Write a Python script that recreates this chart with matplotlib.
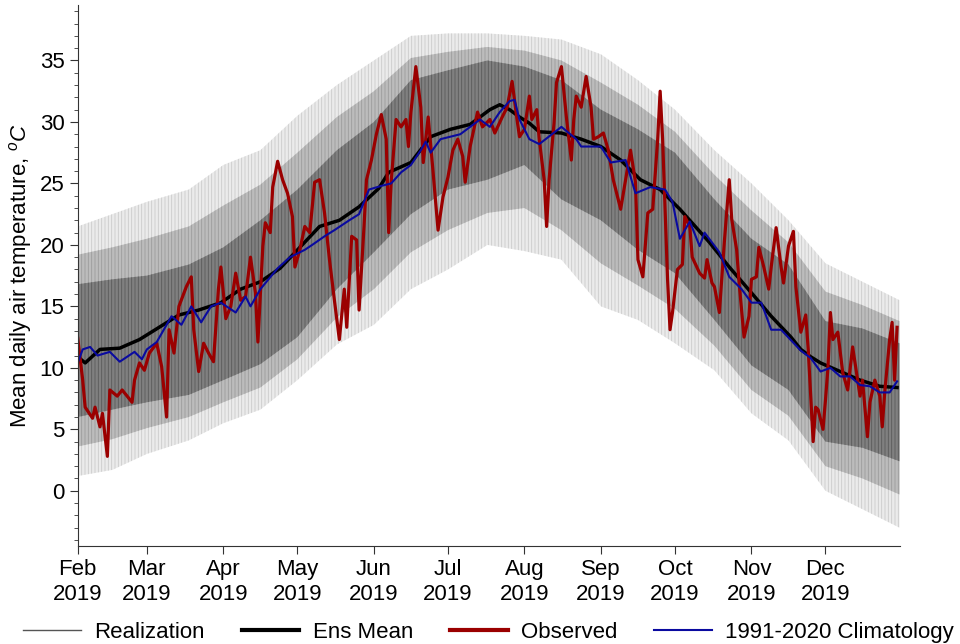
import numpy as np
import matplotlib
matplotlib.use('Agg')
import matplotlib.pyplot as plt
import matplotlib.dates as mdates
from matplotlib.lines import Line2D
from matplotlib.ticker import MultipleLocator

plt.rcParams['font.family'] = ['Liberation Sans', 'DejaVu Sans']
plt.rcParams['mathtext.fontset'] = 'custom'
plt.rcParams['mathtext.it'] = 'Liberation Sans:italic'
plt.rcParams['mathtext.rm'] = 'Liberation Sans'
plt.rcParams['hatch.linewidth'] = 0.6

start = np.datetime64('2019-02-01')

# Ensemble spread of the realizations (day offset from Feb 1)
env_days = [0, 14, 28, 45, 59, 74, 89, 105, 120, 135, 150, 166, 181, 196,
            212, 227, 242, 258, 273, 288, 303, 318, 333]
env_max = [21.5, 22.5, 23.5, 24.5, 26.5, 27.7, 30.5, 33.0, 35.0, 37.0, 37.2,
           37.2, 37.0, 36.7, 35.5, 33.4, 31.0, 27.7, 25.0, 22.0, 18.5, 17.0,
           15.5]
env_mid_hi = [19.2, 19.8, 20.5, 21.5, 23.2, 24.9, 27.5, 30.4, 32.5, 35.2,
              35.7, 36.1, 35.8, 35.0, 33.2, 31.4, 29.2, 25.7, 22.8, 20.2,
              16.2, 15.1, 13.8]
env_hi = [16.8, 17.2, 17.5, 18.4, 19.8, 22.0, 24.5, 27.7, 30.0, 33.4, 34.2,
          35.0, 34.5, 33.4, 31.0, 29.4, 27.5, 23.7, 20.5, 18.4, 13.8, 13.2,
          12.0]
env_lo = [6.0, 6.6, 7.2, 7.8, 9.0, 10.3, 12.5, 16.4, 19.4, 22.5, 24.5, 25.3,
          26.5, 23.7, 22.0, 19.6, 17.7, 13.9, 10.2, 8.2, 4.0, 3.5, 2.4]
env_mid_lo = [3.6, 4.2, 5.1, 6.0, 7.2, 8.4, 10.7, 14.1, 16.4, 19.4, 21.2,
              22.6, 23.0, 21.2, 18.5, 16.7, 14.8, 11.8, 8.2, 6.1, 2.0, 1.0,
              -0.3]
env_min = [1.2, 1.7, 3.0, 4.1, 5.5, 6.6, 9.0, 11.9, 13.5, 16.4, 18.0, 20.0,
           19.5, 18.8, 15.0, 13.9, 12.0, 9.8, 6.3, 4.1, 0.0, -1.5, -3.0]

# Ensemble mean
mean_days = [0, 3, 9, 17, 25, 33, 41, 49, 58, 66, 74, 82, 90, 98, 106, 114,
             122, 126, 135, 143, 151, 159, 167, 171, 175, 179, 183, 187, 196,
             204, 212, 220, 228, 236, 240, 244, 248, 256, 264, 273, 281, 289,
             293, 297, 301, 309, 317, 325, 332]
mean_vals = [10.9, 10.4, 11.5, 11.6, 12.3, 13.3, 14.3, 14.7, 15.3, 16.4, 17.0,
             18.1, 19.8, 21.5, 22.0, 23.1, 24.6, 25.9, 26.7, 28.8, 29.4, 29.8,
             31.0, 31.4, 31.0, 30.4, 29.9, 29.2, 29.1, 28.6, 28.0, 26.9, 25.3,
             24.5, 23.7, 22.9, 22.0, 20.2, 18.2, 16.1, 14.2, 12.5, 11.5, 10.9,
             10.4, 9.7, 9.0, 8.5, 8.4]

# Observed daily mean
obs_days = [0, 2, 3, 6, 7, 9, 10, 12, 13, 16, 18, 22, 23, 25, 27, 29, 32, 34,
            36, 37, 39, 41, 44, 46, 47, 49, 51, 53, 55, 57, 58, 60, 62, 64, 66,
            68, 70, 72, 73, 75, 76, 78, 79, 81, 83, 85, 87, 88, 90, 92, 94, 96,
            98, 100, 102, 104, 106, 108, 109, 111, 113, 114, 116, 117, 119,
            121, 123, 125, 126, 127, 129, 131, 133, 134, 135, 137, 139, 140,
            142, 144, 146, 148, 150, 152, 154, 156, 157, 159, 162, 164, 167,
            169, 172, 174, 176, 178, 179, 181, 183, 184, 186, 187, 189, 190,
            191, 193, 194, 196, 198, 200, 201, 202, 204, 206, 208, 209, 211,
            213, 215, 217, 220, 222, 224, 226, 227, 229, 231, 233, 235, 236,
            237, 239, 240, 241, 243, 245, 246, 248, 249, 252, 254, 255, 257,
            258, 260, 262, 264, 265, 267, 268, 270, 272, 273, 275, 276, 278,
            280, 281, 283, 285, 286, 288, 290, 291, 293, 295, 296, 298, 299,
            300, 302, 303, 304, 305, 306, 308, 310, 312, 314, 316, 317, 318,
            320, 321, 323, 325, 326, 327, 329, 330, 331, 332]
obs_vals = [12.4, 9.0, 6.8, 5.9, 6.8, 5.2, 6.3, 2.8, 8.2, 7.7, 8.2, 7.2, 9.0,
            10.4, 9.8, 11.2, 12.0, 10.1, 6.0, 13.1, 11.2, 15.0, 16.6, 17.4,
            13.1, 9.7, 12.0, 11.2, 10.5, 16.4, 18.2, 14.0, 15.0, 17.7, 15.5,
            15.8, 19.0, 16.1, 12.1, 19.9, 21.8, 21.0, 24.7, 26.8, 25.3, 24.2,
            22.3, 18.2, 19.6, 21.5, 21.0, 25.1, 25.3, 22.6, 18.8, 15.5, 12.3,
            16.4, 13.3, 20.7, 20.4, 14.7, 21.5, 25.3, 26.9, 29.0, 30.6, 28.6,
            21.0, 25.1, 30.2, 29.6, 30.2, 28.0, 30.8, 34.5, 31.2, 26.7, 30.4,
            25.9, 21.2, 23.9, 25.5, 27.7, 28.6, 27.2, 25.1, 28.0, 30.8, 29.6,
            30.2, 29.1, 30.4, 31.2, 33.3, 30.2, 28.8, 29.4, 32.1, 30.2, 31.0,
            28.6, 25.3, 21.5, 25.3, 29.9, 33.2, 34.5, 30.4, 26.9, 30.2, 32.1,
            31.2, 33.7, 31.2, 28.6, 28.8, 29.1, 27.7, 25.3, 22.9, 25.3, 27.7,
            25.1, 18.8, 17.4, 22.6, 22.9, 28.6, 32.5, 28.6, 17.2, 13.1, 14.5,
            18.0, 18.4, 22.3, 21.5, 19.0, 17.7, 17.3, 18.8, 16.9, 16.6, 14.5,
            20.2, 25.3, 22.1, 19.6, 16.9, 12.5, 14.2, 17.2, 17.4, 19.8, 18.2,
            16.4, 18.2, 21.4, 18.2, 16.9, 19.9, 21.1, 16.6, 12.9, 14.3, 11.5,
            4.0, 6.8, 6.6, 5.0, 7.4, 10.0, 14.5, 12.3, 12.9, 9.6, 8.2, 11.7,
            9.0, 7.7, 9.0, 4.4, 7.2, 9.0, 7.7, 5.2, 8.0, 12.3, 13.7, 9.0, 13.3]

# 1991-2020 climatology
clim_days = [0, 2, 5, 8, 13, 17, 23, 26, 28, 32, 38, 42, 46, 50, 54, 58, 64,
             68, 70, 74, 81, 86, 92, 95, 100, 104, 110, 114, 118, 123, 127,
             131, 135, 139, 141, 143, 147, 155, 163, 167, 171, 175, 177, 179,
             183, 187, 196, 202, 204, 212, 216, 222, 226, 232, 238, 241, 244,
             248, 252, 254, 260, 264, 269, 273, 277, 281, 285, 293, 297, 301,
             305, 309, 313, 317, 321, 325, 329, 332]
clim_vals = [10.4, 11.5, 11.7, 11.0, 11.3, 10.5, 11.3, 10.7, 11.5, 12.1, 14.2,
             13.5, 15.0, 13.7, 15.0, 15.3, 14.5, 15.8, 15.0, 16.4, 18.1, 19.0,
             19.6, 20.0, 20.7, 21.2, 22.0, 22.5, 24.5, 24.8, 25.0, 25.9, 26.5,
             27.7, 28.4, 27.5, 28.6, 29.0, 30.2, 29.6, 30.8, 31.7, 31.8, 30.2,
             28.6, 28.2, 29.6, 28.6, 28.0, 28.0, 26.7, 26.9, 24.2, 24.7, 24.5,
             23.5, 20.5, 21.9, 19.9, 21.0, 19.4, 17.4, 16.4, 15.3, 15.3, 13.1,
             13.1, 11.4, 10.8, 9.7, 10.0, 9.3, 9.3, 8.6, 8.5, 8.0, 8.0, 8.9]

env_x = start + np.array(env_days)
mean_x = start + np.array(mean_days)
obs_x = start + np.array(obs_days)
clim_x = start + np.array(clim_days)

fig = plt.figure(figsize=(9.6, 6.44), dpi=100)
ax = fig.add_axes([0.081, 0.152, 0.856, 0.840])

# realization cloud, from faint outer spread to dense core
ax.fill_between(env_x, env_min, env_max, facecolor='#ebebeb',
                edgecolor='#cacaca', hatch='|||||', linewidth=0)
ax.fill_between(env_x, env_mid_lo, env_mid_hi, facecolor='#bcbcbc',
                edgecolor='#9c9c9c', hatch='|||||', linewidth=0)
ax.fill_between(env_x, env_lo, env_hi, facecolor='#808080',
                edgecolor='#5a5a5a', hatch='|||||', linewidth=0)

ax.plot(mean_x, mean_vals, color='black', lw=2.5)
ax.plot(obs_x, obs_vals, color='#9b0000', lw=2.3)
ax.plot(clim_x, clim_vals, color='#0a0aa0', lw=1.5)

ax.set_xlim(start, start + 333)
ax.set_ylim(-4.5, 39.5)
ax.xaxis.set_major_locator(mdates.MonthLocator())
ax.xaxis.set_major_formatter(mdates.DateFormatter('%b\n%Y'))
ax.yaxis.set_major_locator(MultipleLocator(5))
ax.yaxis.set_minor_locator(MultipleLocator(1))
ax.tick_params(axis='both', which='major', labelsize=16, length=6,
               color='#333333')
ax.tick_params(axis='y', which='minor', length=3, color='#333333')
for s in ['top', 'right']:
    ax.spines[s].set_visible(False)
for s in ['left', 'bottom']:
    ax.spines[s].set_color('#333333')
ax.set_ylabel(r'Mean daily air temperature, $^{o}C$', fontsize=16)

handles = [Line2D([], [], color='#555555', lw=1),
           Line2D([], [], color='black', lw=3),
           Line2D([], [], color='#9b0000', lw=3),
           Line2D([], [], color='#0a0aa0', lw=1.5)]
labels = ['Realization', 'Ens Mean', 'Observed', '1991-2020 Climatology']
ax.legend(handles, labels, loc='center', bbox_to_anchor=(0.5, -0.159),
          ncol=4, frameon=False, fontsize=16, handlelength=2.6,
          handletextpad=0.6, columnspacing=1.65)

fig.savefig('out.png', dpi=100)
